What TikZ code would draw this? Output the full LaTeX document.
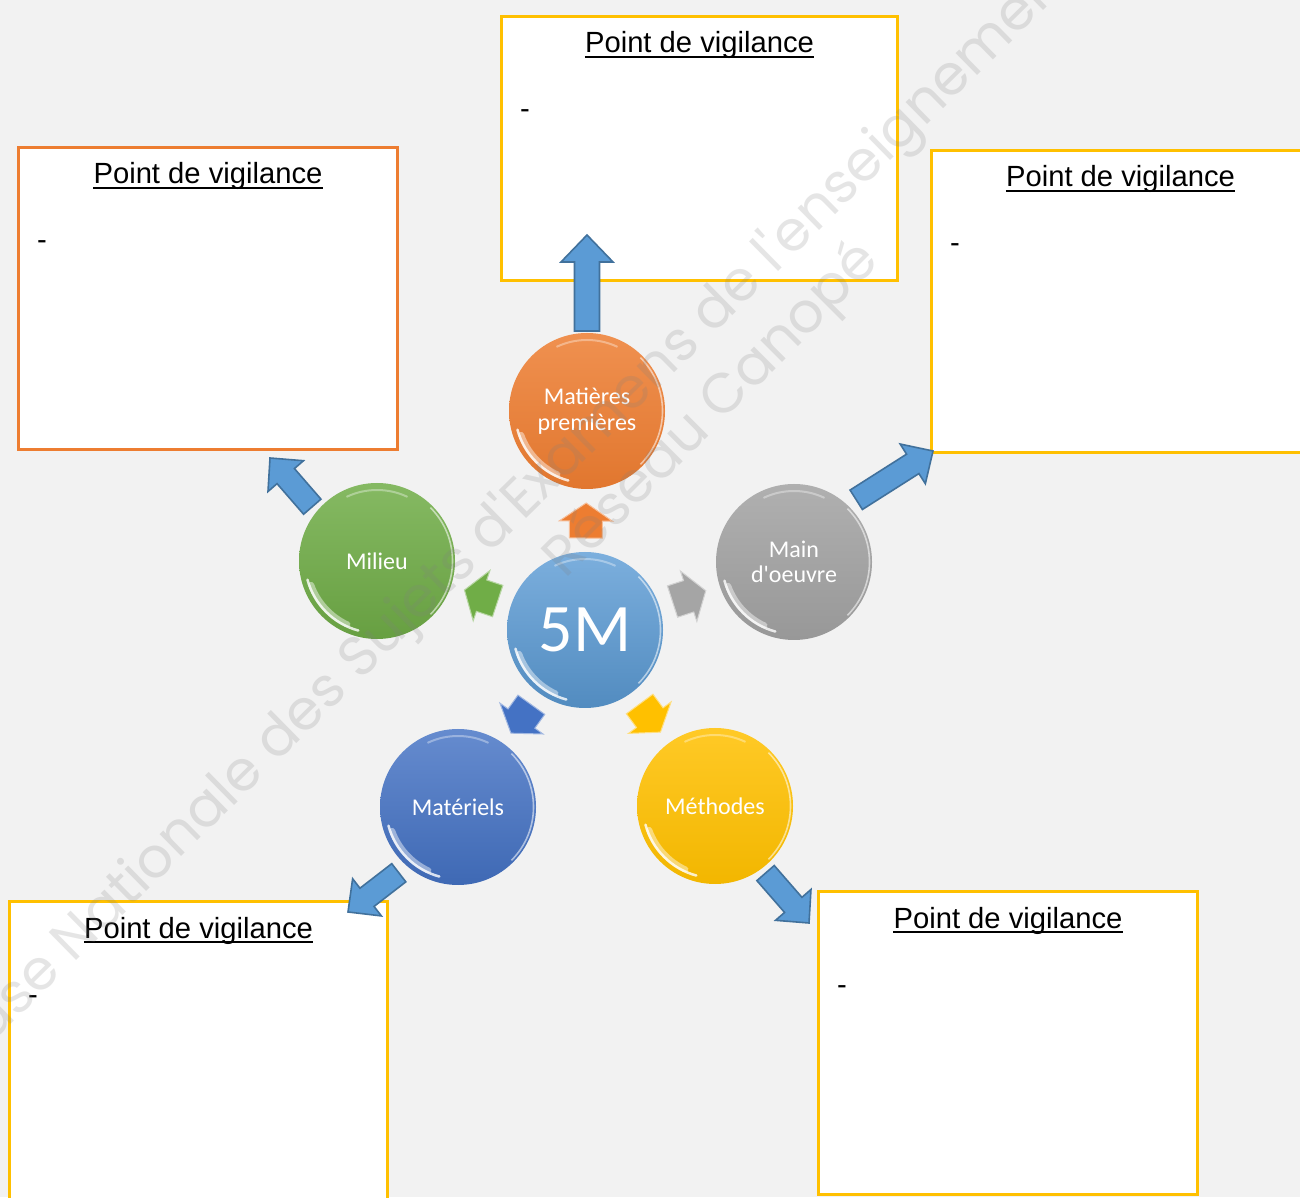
\documentclass[tikz,border=0pt]{standalone}
\usepackage{fontspec}
\setmainfont{Liberation Sans}
\newfontfamily\carlito[Ligatures=TeXOff]{Carlito}
\newfontfamily\popp[Ligatures=TeXOff]{Poppins}
\usetikzlibrary{calc}
\definecolor{bg}{HTML}{F2F2F2}
\definecolor{gold}{HTML}{FFC000}
\definecolor{orng}{HTML}{ED7D31}
\definecolor{grn}{HTML}{70AD47}
\definecolor{gry}{HTML}{A5A5A5}
\definecolor{dblue}{HTML}{4472C4}
\definecolor{lblue}{HTML}{5B9BD5}
\definecolor{abord}{HTML}{41719C}
% block arrow: #1 start, #2 tip, #3 shaft half width, #4 head half width, #5 head length, #6 style
\newcommand\blockarr[6]{%
  \coordinate (#1-h) at ($(#2)!#5!(#1)$);
  \path[#6] ($(#1)!#3!90:(#2)$) -- ($(#1-h)!#3!-90:(#1)$) -- ($(#1-h)!#4!-90:(#1)$)
    -- (#2) -- ($(#1-h)!#4!90:(#1)$) -- ($(#1-h)!#3!90:(#1)$) -- ($(#1)!#3!-90:(#2)$) -- cycle;
}
\begin{document}
\begin{tikzpicture}[x=1pt,y=1pt,
  box/.style={draw, fill=white, line width=3pt, anchor=north west, inner sep=0pt},
  ttl/.style={inner sep=0pt, anchor=base, font=\fontsize{29.2}{35}\selectfont},
  dsh/.style={inner sep=0pt, anchor=base west, font=\fontsize{29.2}{35}\selectfont},
  bub/.style={circle, minimum size=156pt, inner sep=0pt, text=white, align=center,
    font=\carlito\fontsize{24}{25.5}\selectfont,
    path picture={
      \coordinate (pc) at (path picture bounding box.center);
      \draw[white, opacity=0.45, line width=6pt, line cap=round]
        ([shift={(200:70pt)}]pc) arc[start angle=200, end angle=245, radius=70pt];
      \draw[white, opacity=0.8, line width=2.5pt, line cap=round]
        ([shift={(195:72pt)}]pc) arc[start angle=195, end angle=255, radius=72pt];
      \draw[white, opacity=0.55, line width=1.6pt]
        ([shift={(-45:75.5pt)}]pc) arc[start angle=-45, end angle=45, radius=75.5pt];
      \draw[white, opacity=0.35, line width=2pt, line cap=round]
        ([shift={(65:71pt)}]pc) arc[start angle=65, end angle=115, radius=71pt];
    }},
  bigarr/.style={fill=lblue, draw=abord, line width=1.6pt, line join=miter},
  smallarr/.style={fill=#1, draw=#1!50!white, line width=1pt, line join=miter},
  wmark/.style={text=gray, opacity=0.2, inner sep=0pt, font=\popp\fontsize{56}{60}\selectfont}
]
\useasboundingbox (0,0) rectangle (1300,1197);
\clip (0,0) rectangle (1300,1197);
\fill[bg] (0,0) rectangle (1300,1197);

% boxes
\node[box, draw=gold, minimum width=396pt, minimum height=264pt] (bT) at (500,1182) {};
\node[box, draw=orng, minimum width=379pt, minimum height=302pt] (bL) at (17,1051) {};
\node[box, draw=gold, minimum width=378pt, minimum height=302pt] (bR) at (930,1048) {};
\node[box, draw=gold, minimum width=378pt, minimum height=310pt] (bBL) at (8,297) {};
\node[box, draw=gold, minimum width=379pt, minimum height=303pt] (bBR) at (817,307) {};

\foreach \b in {bT,bL,bR,bBL,bBR}{
  \node[ttl] (\b-t) at ([yshift=-38pt]\b.north) {Point de vigilance};
  \draw[line width=2.2pt] ([yshift=-4pt]\b-t.base west) -- ([yshift=-4pt]\b-t.base east);
  \node[dsh] (\b-d) at ([xshift=20pt,yshift=-104pt]\b.north west) {-};
}

% circles
\node[bub, top color=lblue!80!white, bottom color=lblue!90!black, font=\carlito\fontsize{68}{70}\selectfont] (c) at (585,567) {5M};
\node[bub, top color=orng!85!white, bottom color=orng!95!black] (mp) at (587,786) {Matières\\premières};
\node[bub, top color=grn!85!white, bottom color=grn!92!black] (mi) at (377,636) {Milieu};
\node[bub, top color=gry!88!white, bottom color=gry!92!black] (mo) at (794,635) {Main\\d'oeuvre};
\node[bub, top color=dblue!82!white, bottom color=dblue!92!black] (ma) at (458,390) {Matériels};
\node[bub, top color=gold!85!white, bottom color=gold!95!black] (me) at (715,391) {Méthodes};

% small arrows from centre
\foreach \n/\col in {mp/orng, mi/grn, mo/gry, ma/dblue, me/gold}{
  \coordinate (s\n) at ($(c.center)!92pt!(\n.center)$);
  \coordinate (e\n) at ($(c.center)!127pt!(\n.center)$);
  \blockarr{s\n}{e\n}{16.5pt}{26.5pt}{18pt}{smallarr=\col}
}

% big arrows to boxes
\coordinate (sT) at ($(mp.center)!80pt!(mp.90)$);
\coordinate (tT) at (587,962);
\blockarr{sT}{tT}{12.5pt}{26pt}{27pt}{bigarr}
\coordinate (sL) at ($(mi.center)!84.5pt!(mi.140)$);
\coordinate (tL) at (270,739);
\blockarr{sL}{tL}{11.5pt}{23.5pt}{24pt}{bigarr}
\coordinate (sR) at ($(mo.center)!88pt!(mo.45)$);
\coordinate (tR) at (933,746);
\blockarr{sR}{tR}{11.5pt}{23.5pt}{24pt}{bigarr}
\coordinate (sBL) at ($(ma.center)!88.5pt!(ma.228)$);
\coordinate (tBL) at (348,285);
\blockarr{sBL}{tBL}{11.5pt}{23.5pt}{24pt}{bigarr}
\coordinate (sBR) at ($(me.center)!84pt!(me.307)$);
\coordinate (tBR) at (809,274);
\blockarr{sBR}{tBR}{11.5pt}{23.5pt}{24pt}{bigarr}

% watermark
\node[wmark, rotate=44.5] (wm1) at (513,686) {Base Nationale des Sujets d'Examens de l'enseignement};
\node[wmark, rotate=45] (wm2) at (713,786) {Réseau Canopé};
\end{tikzpicture}
\end{document}
